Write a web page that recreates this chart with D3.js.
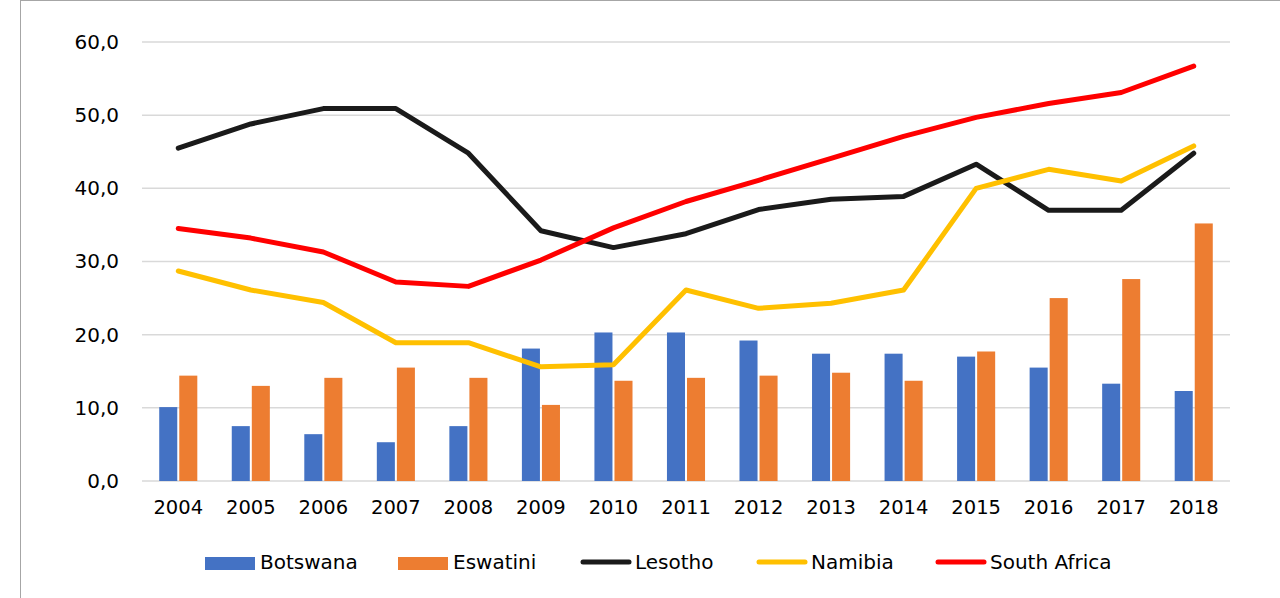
<!doctype html>
<html>
<head>
<meta charset="utf-8">
<script src="https://d3js.org/d3.v7.min.js"></script>
<style>
  body { margin: 0; background: #fff; }
  text { font-family: "DejaVu Sans", sans-serif; fill: #000; }
</style>
</head>
<body>
<svg width="1280" height="598"></svg>
<script>
var years = ["2004","2005","2006","2007","2008","2009","2010","2011","2012","2013","2014","2015","2016","2017","2018"];
var yTicks = [0, 10, 20, 30, 40, 50, 60];

var botswana = [10.1, 7.5, 6.4, 5.3, 7.5, 18.1, 20.3, 20.3, 19.2, 17.4, 17.4, 17.0, 15.5, 13.3, 12.3];
var eswatini = [14.4, 13.0, 14.1, 15.5, 14.1, 10.4, 13.7, 14.1, 14.4, 14.8, 13.7, 17.7, 25.0, 27.6, 35.2];
var lesotho = [45.5, 48.8, 50.9, 50.9, 44.8, 34.2, 31.9, 33.8, 37.1, 38.5, 38.9, 43.3, 37.0, 37.0, 44.8];
var namibia = [28.7, 26.1, 24.4, 18.9, 18.9, 15.6, 15.9, 26.1, 23.6, 24.3, 26.1, 40.0, 42.6, 41.0, 45.8];
var southAfrica = [34.5, 33.2, 31.3, 27.2, 26.6, 30.2, 34.6, 38.2, 41.1, 44.1, 47.1, 49.7, 51.6, 53.1, 56.7];

var barSeries = [
  { name: "Botswana", values: botswana, color: "#4472c4" },
  { name: "Eswatini", values: eswatini, color: "#ed7d31" }
];
var lineSeries = [
  { name: "Lesotho", values: lesotho, color: "#1a1a1a" },
  { name: "Namibia", values: namibia, color: "#ffc000" },
  { name: "South Africa", values: southAfrica, color: "#ff0000" }
];

var svg = d3.select("svg");

// chart frame
svg.append("rect")
   .attr("x", 20.5).attr("y", 0.5)
   .attr("width", 1280).attr("height", 620)
   .attr("fill", "none").attr("stroke", "#a6a6a6").attr("stroke-width", 1);

var plotLeft = 142, plotRight = 1230, plotTop = 42, plotBottom = 481;

var x0 = d3.scaleBand().domain(years).range([plotLeft, plotRight])
           .paddingInner(0.475).paddingOuter(0.2375);
var x1 = d3.scaleBand().domain(barSeries.map(function(s) { return s.name; }))
           .range([0, x0.bandwidth()]).paddingInner(0.1);
var y = d3.scaleLinear().domain([0, 60]).range([plotBottom, plotTop]);

// gridlines
svg.append("g").selectAll("line")
   .data(yTicks)
   .enter().append("line")
   .attr("x1", plotLeft).attr("x2", plotRight)
   .attr("y1", function(d) { return y(d); })
   .attr("y2", function(d) { return y(d); })
   .attr("stroke", "#d9d9d9").attr("stroke-width", 1.5);

// y axis labels
var yAxis = svg.append("g")
   .attr("transform", "translate(" + (plotLeft - 10) + ",0)")
   .call(d3.axisLeft(y).tickValues(yTicks).tickSize(0).tickPadding(13)
     .tickFormat(function(d) { return d3.format(".1f")(d).replace(".", ","); }));
yAxis.select(".domain").remove();
yAxis.selectAll("text").style("font-size", "20px").attr("font-family", null);

// x axis labels
var xAxis = svg.append("g")
   .attr("transform", "translate(0," + plotBottom + ")")
   .call(d3.axisBottom(x0.copy().paddingInner(0).paddingOuter(0)).tickSize(0).tickPadding(19));
xAxis.select(".domain").remove();
xAxis.selectAll("text").style("font-size", "19.5px").attr("font-family", null);

// bars
barSeries.forEach(function(s) {
  svg.append("g").selectAll("rect")
     .data(s.values)
     .enter().append("rect")
     .attr("x", function(d, i) { return x0(years[i]) + x1(s.name); })
     .attr("y", function(d) { return y(d); })
     .attr("width", x1.bandwidth())
     .attr("height", function(d) { return y(0) - y(d); })
     .attr("fill", s.color);
});

// lines
var line = d3.line()
   .x(function(d, i) { return x0(years[i]) + x0.bandwidth() / 2; })
   .y(function(d) { return y(d); });

lineSeries.forEach(function(s) {
  svg.append("path")
     .datum(s.values)
     .attr("d", line)
     .attr("fill", "none")
     .attr("stroke", s.color)
     .attr("stroke-width", 5)
     .attr("stroke-linecap", "round")
     .attr("stroke-linejoin", "round");
});

// legend
var legendItems = [
  { name: "Botswana", color: "#4472c4", type: "bar", x: 205 },
  { name: "Eswatini", color: "#ed7d31", type: "bar", x: 398 },
  { name: "Lesotho", color: "#1a1a1a", type: "line", x: 580 },
  { name: "Namibia", color: "#ffc000", type: "line", x: 756 },
  { name: "South Africa", color: "#ff0000", type: "line", x: 935 }
];
var lg = svg.append("g");
legendItems.forEach(function(it) {
  if (it.type === "bar") {
    lg.append("rect").attr("x", it.x).attr("y", 557).attr("width", 50).attr("height", 13)
      .attr("fill", it.color);
  } else {
    lg.append("line").attr("x1", it.x + 3).attr("x2", it.x + 49).attr("y1", 562).attr("y2", 562)
      .attr("stroke", it.color).attr("stroke-width", 5).attr("stroke-linecap", "round");
  }
  lg.append("text").attr("x", it.x + 55).attr("y", 569)
    .style("font-size", "20px").text(it.name);
});
</script>
</body>
</html>
